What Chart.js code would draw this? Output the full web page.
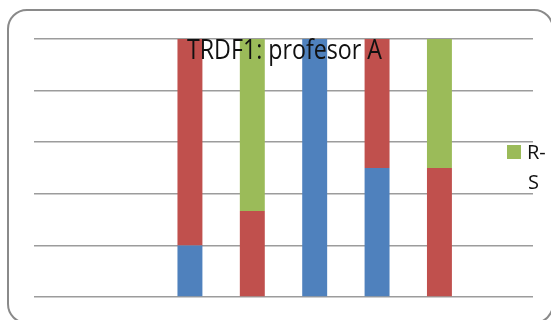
<!DOCTYPE html>
<html>
<head>
<meta charset="utf-8">
<script src="https://cdn.jsdelivr.net/npm/chart.js@4/dist/chart.umd.min.js"></script>
<style>
  html, body { margin: 0; padding: 0; background: #fff; overflow: hidden; }
  #wrap { position: relative; width: 551px; height: 320px; overflow: hidden; }
  #frame {
    position: absolute; left: 7px; top: 9px; width: 547px; height: 315px;
    border: 2px solid #8a8a8a; border-radius: 20px; box-sizing: border-box;
  }
  canvas { position: absolute; left: 0; top: 0; }
</style>
</head>
<body>
<div id="wrap">
  <div id="frame"></div>
  <canvas id="c" width="551" height="320"></canvas>
</div>
<script>
// Chart data
const chartTitle = "TRDF1: profesor A";
const categories = ["1", "2", "3", "4", "5", "6", "7", "8"];
const seriesNames = ["R-A", "R-B", "R-S"];
const blueValues  = [null, null, 20, 0, 100, 50, 0, null];
const redValues   = [null, null, 80, 33.3, 0, 50, 50, null];
const greenValues = [null, null, 0, 66.7, 0, 0, 50, null];
const yTicks = [0, 20, 40, 60, 80, 100];

const colors = ["#4F81BD", "#C0504D", "#9BBB59"];

// Title laid over the plot, and a partial legend at the right edge
const overlay = {
  id: "overlay",
  afterDraw(chart) {
    const ctx = chart.ctx;
    const a = chart.chartArea;
    ctx.save();
    ctx.fillStyle = "#111";
    // title
    ctx.font = '28px "Open Sans"';
    const w = ctx.measureText(chartTitle).width;
    ctx.translate((a.left + a.right) / 2 + 1, a.top + 20);
    ctx.scale(195 / w, 1);
    ctx.textAlign = "center";
    ctx.textBaseline = "alphabetic";
    ctx.fillText(chartTitle, 0, 0);
    ctx.restore();

    // legend entry (wrapped label)
    ctx.save();
    const lx = a.right - 26, ly = a.top + 106;
    ctx.fillStyle = colors[2];
    ctx.fillRect(lx, ly, 14, 14);
    ctx.fillStyle = "#111";
    ctx.font = '20px "Open Sans"';
    ctx.textBaseline = "alphabetic";
    const parts = ["R-", "S"];
    ctx.fillText(parts[0], lx + 20, ly + 14);
    ctx.fillText(parts[1], lx + 21, ly + 44);
    ctx.restore();
  }
};

function build() {
  new Chart(document.getElementById("c"), {
    type: "bar",
    data: {
      labels: categories,
      datasets: [
        { label: seriesNames[0], data: blueValues,  backgroundColor: colors[0] },
        { label: seriesNames[1], data: redValues,   backgroundColor: colors[1] },
        { label: seriesNames[2], data: greenValues, backgroundColor: colors[2] }
      ]
    },
    options: {
      responsive: false,
      animation: false,
      layout: { padding: { left: 34, right: 18, top: 39, bottom: 23 } },
      datasets: { bar: { categoryPercentage: 1, barPercentage: 0.4, borderWidth: 0 } },
      plugins: { legend: { display: false }, title: { display: false }, tooltip: { enabled: false } },
      scales: {
        x: {
          stacked: true,
          grid: { display: false, drawTicks: false },
          border: { display: false },
          ticks: { display: false }
        },
        y: {
          stacked: true,
          min: yTicks[0],
          max: yTicks[yTicks.length - 1],
          afterBuildTicks(scale) { scale.ticks = yTicks.map(v => ({ value: v })); },
          grid: { color: "#9c9c9c", lineWidth: 1.5, drawTicks: false },
          border: { display: false },
          ticks: { display: false }
        }
      }
    },
    plugins: [overlay]
  });
}

if (document.fonts && document.fonts.load) {
  Promise.all([document.fonts.load('28px "Open Sans"'), document.fonts.load('20px "Open Sans"')])
    .then(build, build);
} else {
  build();
}
</script>
</body>
</html>
